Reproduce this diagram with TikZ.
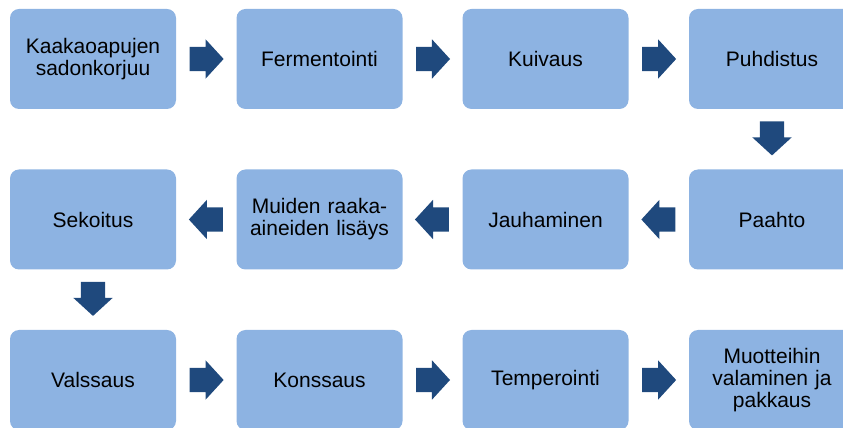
\documentclass[tikz,border=0pt]{standalone}
\usepackage{fontspec}
\setmainfont{Liberation Sans}
\usepackage{xcolor}
\usetikzlibrary{shapes.arrows}
\usetikzlibrary{calc}
\definecolor{laatikko}{HTML}{8DB3E2}
\definecolor{tumma}{HTML}{1F497D}

\begin{document}
\begin{tikzpicture}[x=1pt, y=1pt,
        vaihe/.style={fill=laatikko, rounded corners=9pt, minimum width=166pt, minimum height=100pt,
            inner sep=0pt, align=center, text width=160pt, font=\fontsize{21}{22}\selectfont},
        nuoli/.style={single arrow, fill=tumma, anchor=tail, inner xsep=0pt, inner ysep=12pt,
            minimum height=34pt, minimum width=39pt, single arrow head extend=7.5pt,
            single arrow tip angle=95},
        alas/.style={nuoli, shape border rotate=270, inner xsep=12pt, inner ysep=0pt},
        vasen/.style={nuoli, shape border rotate=180}]
    \useasboundingbox (0,0) rectangle (843,428);
    % rivi 1
    \node[vaihe] (k1) at (93,369) {Kaakaoapujen\\sadonkorjuu};
    \node[vaihe] (k2) at (319.5,369) {Fermentointi};
    \node[vaihe] (k3) at (545.5,369) {Kuivaus};
    \node[vaihe] (k4) at (772,369) {Puhdistus};
    % rivi 2
    \node[vaihe] (k5) at (772,208.5) {Paahto};
    \node[vaihe] (k6) at (545.5,208.5) {Jauhaminen};
    \node[vaihe] (k7) at (319.5,208.5) {Muiden raaka-\\aineiden lisäys};
    \node[vaihe] (k8) at (93,208.5) {Sekoitus};
    % rivi 3
    \node[vaihe] (k9) at (93,48) {Valssaus};
    \node[vaihe] (k10) at (319.5,48) {Konssaus};
    \node[vaihe] (k11) at (545.5,48) {Temperointi};
    \node[vaihe] (k12) at (772,48) {Muotteihin\\valaminen ja\\pakkaus};
    % nuolet
    \node[nuoli] (n1) at ($(k1.east)!0.22!(k2.west)$) {};
    \node[nuoli] (n2) at ($(k2.east)!0.22!(k3.west)$) {};
    \node[nuoli] (n3) at ($(k3.east)!0.22!(k4.west)$) {};
    \node[alas] (n4) at ($(k4.south)!0.2!(k5.north)$) {};
    \node[vasen] (n5) at ($(k5.west)!0.22!(k6.east)$) {};
    \node[vasen] (n6) at ($(k6.west)!0.22!(k7.east)$) {};
    \node[vasen] (n7) at ($(k7.west)!0.22!(k8.east)$) {};
    \node[alas] (n8) at ($(k8.south)!0.2!(k9.north)$) {};
    \node[nuoli] (n9) at ($(k9.east)!0.22!(k10.west)$) {};
    \node[nuoli] (n10) at ($(k10.east)!0.22!(k11.west)$) {};
    \node[nuoli] (n11) at ($(k11.east)!0.22!(k12.west)$) {};
\end{tikzpicture}
\end{document}
